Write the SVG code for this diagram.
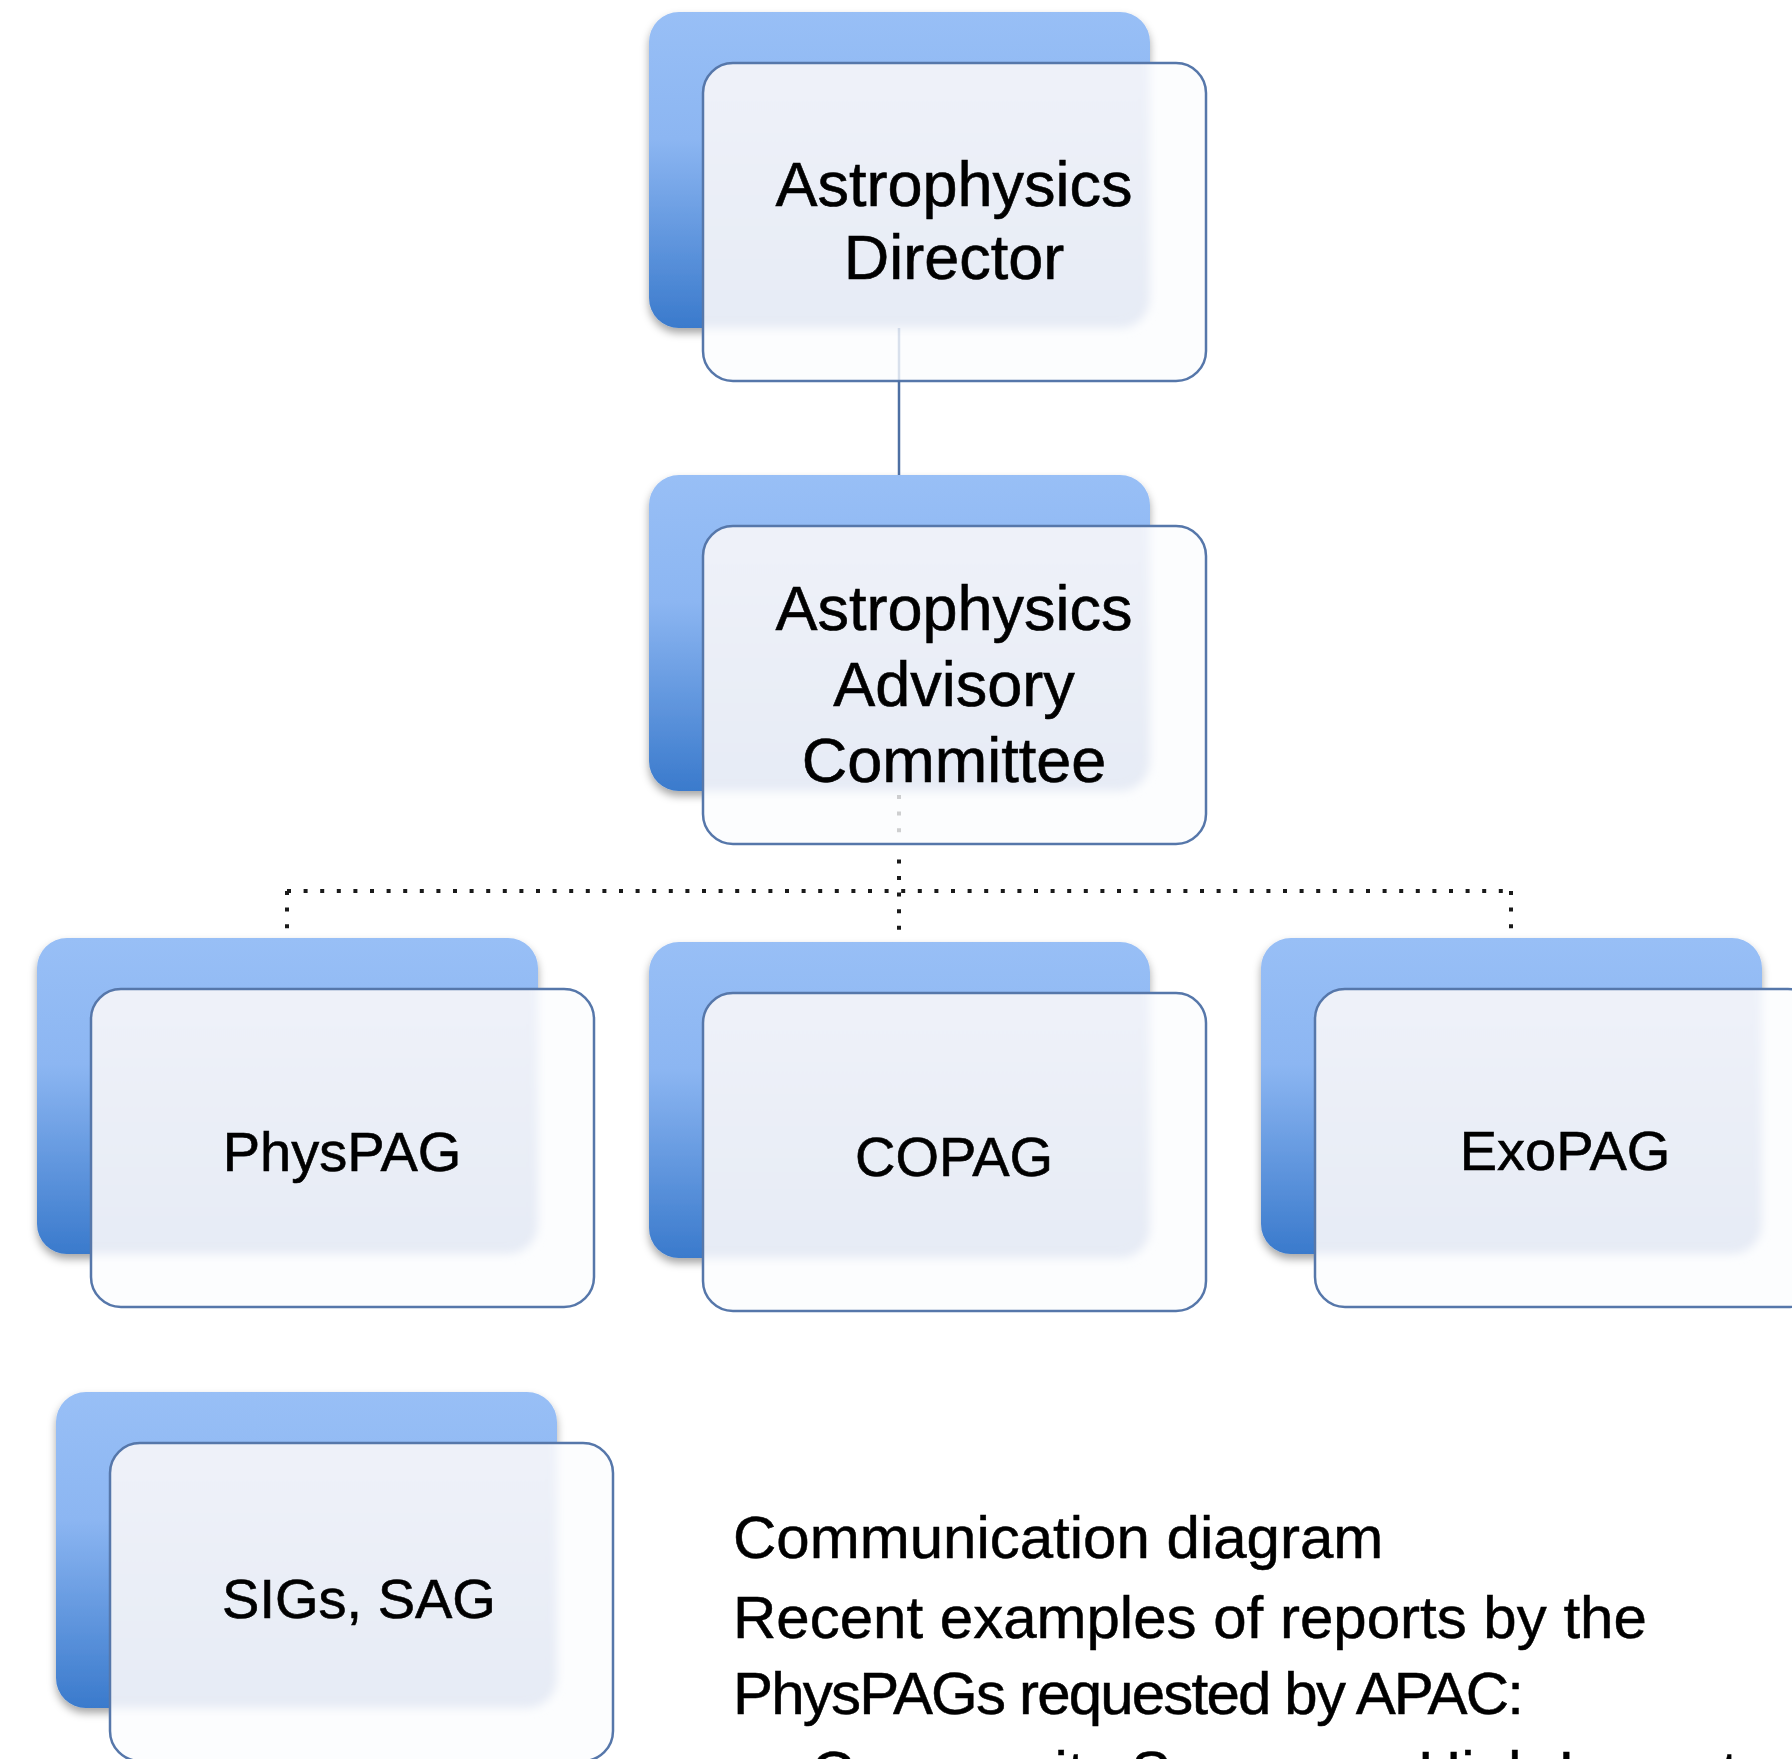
<svg xmlns="http://www.w3.org/2000/svg" width="1792" height="1759" viewBox="0 0 1792 1759">
<defs>
<linearGradient id="backGrad" x1="0" y1="0" x2="0" y2="1">
<stop offset="0" stop-color="#98BFF6"/>
<stop offset="0.4" stop-color="#8CB6F2"/>
<stop offset="1" stop-color="#3A7ACC"/>
</linearGradient>
<linearGradient id="tintGrad" x1="0" y1="0" x2="0" y2="1">
<stop offset="0" stop-color="#F0F3FA"/>
<stop offset="1" stop-color="#E6EBF5"/>
</linearGradient>
<filter id="shadow" x="-10%" y="-10%" width="120%" height="130%">
<feDropShadow dx="0" dy="5" stdDeviation="4" flood-color="#000" flood-opacity="0.35"/>
</filter>
<filter id="soft" x="-10%" y="-10%" width="120%" height="120%">
<feGaussianBlur stdDeviation="5"/>
</filter>
<clipPath id="frontClip">
<rect x="54" y="51" width="503" height="318" rx="30"/>
</clipPath>
<style>
.back{fill:url(#backGrad);filter:url(#shadow)}
.frontBase{fill:#FCFDFE}
.tint{fill:url(#tintGrad);filter:url(#soft)}
.frontLine{fill:none;stroke:#5677AA;stroke-width:2.5}
.lbl{font-family:"Liberation Sans",Arial,sans-serif;font-size:63px;fill:#000;stroke:#000;stroke-width:0.6;text-anchor:middle}
.pag{font-family:"Liberation Sans",Arial,sans-serif;font-size:56px;fill:#000;stroke:#000;stroke-width:0.6;text-anchor:middle}
.body{font-family:"Liberation Sans",Arial,sans-serif;font-size:60px;fill:#000;stroke:#000;stroke-width:0.5}
.solid{stroke:#4D6FA3;stroke-width:2.5;fill:none}
.dot{stroke:#1A1A1A;stroke-width:4;stroke-dasharray:4 12.6;fill:none}
.faint{opacity:0.2}
</style>
</defs>
<rect width="1792" height="1759" fill="#FFFFFF"/>
<g id="node-director" transform="translate(649,12)">
<rect class="back" x="0" y="0" width="501" height="316" rx="30"/>
<rect class="frontBase" x="54" y="51" width="503" height="318" rx="30"/>
<g clip-path="url(#frontClip)"><rect class="tint" x="0" y="0" width="501" height="316" rx="30"/></g>
<rect class="frontLine" x="54" y="51" width="503" height="318" rx="30"/>
<text class="lbl" x="305" y="194">Astrophysics</text>
<text class="lbl" x="305" y="267">Director</text>
</g>
<g id="node-apac" transform="translate(649,475)">
<rect class="back" x="0" y="0" width="501" height="316" rx="30"/>
<rect class="frontBase" x="54" y="51" width="503" height="318" rx="30"/>
<g clip-path="url(#frontClip)"><rect class="tint" x="0" y="0" width="501" height="316" rx="30"/></g>
<rect class="frontLine" x="54" y="51" width="503" height="318" rx="30"/>
<text class="lbl" x="305" y="155">Astrophysics</text>
<text class="lbl" x="305" y="231">Advisory</text>
<text class="lbl" x="305" y="307">Committee</text>
</g>
<g id="node-physpag" transform="translate(37,938)">
<rect class="back" x="0" y="0" width="501" height="316" rx="30"/>
<rect class="frontBase" x="54" y="51" width="503" height="318" rx="30"/>
<g clip-path="url(#frontClip)"><rect class="tint" x="0" y="0" width="501" height="316" rx="30"/></g>
<rect class="frontLine" x="54" y="51" width="503" height="318" rx="30"/>
<text class="pag" x="305" y="233">PhysPAG</text>
</g>
<g id="node-copag" transform="translate(649,942)">
<rect class="back" x="0" y="0" width="501" height="316" rx="30"/>
<rect class="frontBase" x="54" y="51" width="503" height="318" rx="30"/>
<g clip-path="url(#frontClip)"><rect class="tint" x="0" y="0" width="501" height="316" rx="30"/></g>
<rect class="frontLine" x="54" y="51" width="503" height="318" rx="30"/>
<text class="pag" x="305" y="234">COPAG</text>
</g>
<g id="node-exopag" transform="translate(1261,938)">
<rect class="back" x="0" y="0" width="501" height="316" rx="30"/>
<rect class="frontBase" x="54" y="51" width="503" height="318" rx="30"/>
<g clip-path="url(#frontClip)"><rect class="tint" x="0" y="0" width="501" height="316" rx="30"/></g>
<rect class="frontLine" x="54" y="51" width="503" height="318" rx="30"/>
<text class="pag" x="304" y="232">ExoPAG</text>
</g>
<g id="node-sigs" transform="translate(56,1392)">
<rect class="back" x="0" y="0" width="501" height="316" rx="30"/>
<rect class="frontBase" x="54" y="51" width="503" height="318" rx="30"/>
<g clip-path="url(#frontClip)"><rect class="tint" x="0" y="0" width="501" height="316" rx="30"/></g>
<rect class="frontLine" x="54" y="51" width="503" height="318" rx="30"/>
<text class="pag" x="303" y="226">SIGs, SAG</text>
</g>
<g id="connectors">
<line class="solid faint" x1="899" y1="328" x2="899" y2="381"/>
<line class="solid" x1="899" y1="381" x2="899" y2="475"/>
<line class="dot faint" x1="899" y1="795" x2="899" y2="843"/>
<line class="dot" x1="899" y1="859.4" x2="899" y2="942"/>
<line class="dot" x1="287" y1="891" x2="1513" y2="891"/>
<line class="dot" x1="287" y1="891" x2="287" y2="938"/>
<line class="dot" x1="1511" y1="891" x2="1511" y2="937"/>
</g>
<g id="notes">
<text class="body" x="733" y="1558">Communication diagram</text>
<text class="body" x="733" y="1638">Recent examples of reports by the</text>
<text class="body" x="733" y="1714" textLength="791">PhysPAGs requested by APAC:</text>
<text class="body" x="733" y="1793">a.</text>
<text class="body" x="811" y="1793">Community Survey on High Impact</text>
</g>
</svg>
